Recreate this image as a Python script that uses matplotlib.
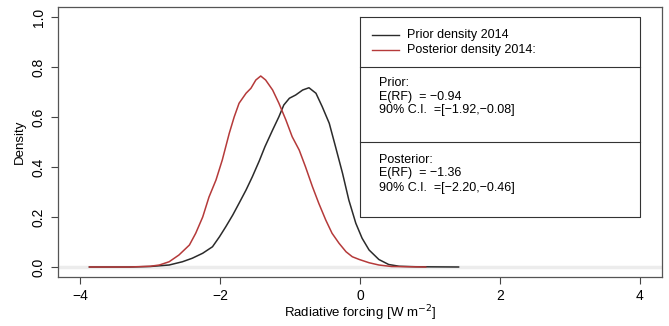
import matplotlib
matplotlib.use("Agg")
import matplotlib.pyplot as plt

plt.rcParams['font.family'] = ['Liberation Sans', 'DejaVu Sans']

# prior density 2014
prior_x = [-3.87, -3.3, -3.0, -2.73, -2.54, -2.40, -2.25, -2.11, -2.01, -1.92, -1.82,
           -1.73, -1.63, -1.54, -1.44, -1.36, -1.25, -1.16, -1.09, -1.01, -0.92,
           -0.82, -0.73, -0.63, -0.54, -0.44, -0.35, -0.25, -0.16, -0.06, 0.03,
           0.13, 0.27, 0.41, 0.56, 0.8, 1.41]
prior_y = [0.0, 0.0, 0.002, 0.008, 0.021, 0.035, 0.055, 0.081, 0.121, 0.161, 0.208,
           0.255, 0.308, 0.361, 0.425, 0.481, 0.548, 0.601, 0.648, 0.675, 0.688,
           0.708, 0.717, 0.695, 0.641, 0.575, 0.481, 0.375, 0.268, 0.175, 0.115,
           0.068, 0.03, 0.01, 0.003, 0.001, 0.0]

# posterior density 2014
post_x = [-3.87, -3.3, -3.0, -2.87, -2.73, -2.59, -2.44, -2.35, -2.25, -2.16, -2.06,
          -1.97, -1.87, -1.80, -1.73, -1.63, -1.56, -1.49, -1.42, -1.35, -1.25,
          -1.16, -1.06, -0.97, -0.87, -0.78, -0.68, -0.59, -0.49, -0.40, -0.30,
          -0.20, -0.11, -0.01, 0.13, 0.27, 0.45, 0.94]
post_y = [0.0, 0.0, 0.003, 0.008, 0.021, 0.048, 0.088, 0.135, 0.20, 0.28, 0.348,
          0.428, 0.535, 0.60, 0.655, 0.695, 0.715, 0.748, 0.764, 0.748, 0.708,
          0.655, 0.588, 0.521, 0.468, 0.401, 0.321, 0.255, 0.188, 0.135, 0.095,
          0.061, 0.041, 0.03, 0.017, 0.008, 0.002, 0.0]

legend_labels = ["Prior density 2014", "Posterior density 2014:"]
prior_stats = ["Prior:", "E(RF)  = \u22120.94", "90% C.I.  =[\u22121.92,\u22120.08]"]
post_stats = ["Posterior:", "E(RF)  = \u22121.36", "90% C.I.  =[\u22122.20,\u22120.46]"]

red = '#b53a3a'
black = '#2b2b2b'

fig = plt.figure(figsize=(6.69, 3.26), dpi=100)
ax = fig.add_axes([58/669, 49/326, 604/669, 270/326])

ax.axhline(0, color='#ececec', lw=2.5, zorder=1)
ax.plot(prior_x, prior_y, color=black, lw=1.1, zorder=3)
ax.plot(post_x, post_y, color=red, lw=1.1, zorder=3)

ax.set_xlim(-4.32, 4.32)
ax.set_ylim(-0.04, 1.04)
ax.set_xticks([-4, -2, 0, 2, 4])
ax.set_yticks([0.0, 0.2, 0.4, 0.6, 0.8, 1.0])
ax.set_yticklabels(['0.0', '0.2', '0.4', '0.6', '0.8', '1.0'], rotation=90, va='center')
ax.tick_params(direction='out', length=5, width=0.8, color='#444444', labelsize=10, pad=4)
for s in ax.spines.values():
    s.set_color('#555555')
    s.set_linewidth(0.9)

ax.set_xlabel("Radiative forcing [W m$^{-2}$]", fontsize=9.5, labelpad=0)
ax.set_ylabel("Density", fontsize=9.5, labelpad=4)

# legend box drawn in data coords like R's rect()
bx0, bx1 = 0.0, 4.0
ax.plot([bx0, bx1, bx1, bx0, bx0], [1.0, 1.0, 0.2, 0.2, 1.0], color='#333333', lw=0.8, zorder=4)
ax.plot([bx0, bx1], [0.8, 0.8], color='#333333', lw=0.8, zorder=4)
ax.plot([bx0, bx1], [0.5, 0.5], color='#333333', lw=0.8, zorder=4)

ax.plot([0.17, 0.56], [0.928, 0.928], color=black, lw=1.0)
ax.plot([0.17, 0.56], [0.868, 0.868], color=red, lw=1.0)
ax.text(0.67, 0.928, legend_labels[0], fontsize=9, va='center')
ax.text(0.67, 0.868, legend_labels[1], fontsize=9, va='center')

for t, yy in zip(prior_stats, [0.736, 0.68, 0.628]):
    ax.text(0.27, yy, t, fontsize=9, va='center')
for t, yy in zip(post_stats, [0.428, 0.376, 0.316]):
    ax.text(0.27, yy, t, fontsize=9, va='center')

fig.savefig("out.png", dpi=100)
